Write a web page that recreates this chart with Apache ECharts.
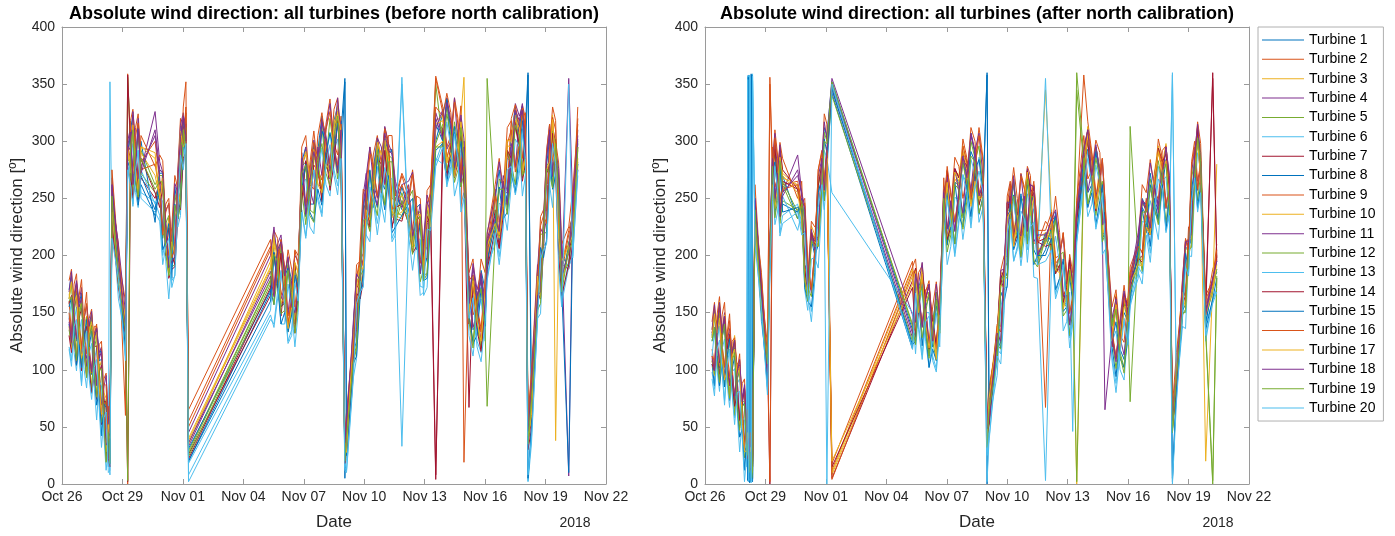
<!DOCTYPE html>
<html><head><meta charset="utf-8">
<script src="https://cdn.jsdelivr.net/npm/echarts@6/dist/echarts.min.js"></script>
<style>html,body{margin:0;padding:0;background:#fff}#c{width:1395px;height:536px}</style>
</head><body><div id="c"></div>
<script>
const tickLabels = ["Oct 26","Oct 29","Nov 01","Nov 04","Nov 07","Nov 10","Nov 13","Nov 16","Nov 19","Nov 22"];
const turbineNames = ["Turbine 1","Turbine 2","Turbine 3","Turbine 4","Turbine 5","Turbine 6","Turbine 7","Turbine 8","Turbine 9","Turbine 10","Turbine 11","Turbine 12","Turbine 13","Turbine 14","Turbine 15","Turbine 16","Turbine 17","Turbine 18","Turbine 19","Turbine 20"];
// time in days since Oct 26 2018 00:00
const tBefore = [0.35,0.6,0.85,1.1,1.35,1.6,1.85,2.08,2.3,2.38,2.48,2.8,3.15,3.26,3.4,3.65,3.92,4.62,4.85,5.15,5.45,5.75,6.02,6.15,6.28,10.35,10.7,11.05,11.4,11.72,11.9,12.3,12.7,13.1,13.5,13.85,14.04,14.12,14.45,14.8,15.1,15.45,15.85,16.2,16.55,16.87,17.2,17.6,17.95,18.3,18.55,18.9,19.3,19.65,19.95,20.2,20.6,21.0,21.1,21.5,21.9,22.3,22.7,23.0,23.13,23.3,23.6,23.9,24.2,24.5,24.8,25.15,25.35,25.6];
const tBeforeMid = [0.47,0.72,0.97,1.22,1.47,1.72,1.96,2.19,3.52,3.78,5.0,5.3,5.6,5.88,10.52,10.87,11.22,11.56,12.1,12.5,12.9,13.3,13.68,14.62,14.95,15.28,15.65,16.02,16.38,17.4,17.78,18.12,19.1,19.48,19.8,20.4,20.8,21.7,22.1,22.5,22.85,23.75,24.05,24.35,24.65];
const tAfter = [0.35,0.6,0.85,1.1,1.35,1.6,1.85,2.08,2.15,2.22,2.29,2.36,2.48,2.8,3.1,3.22,3.35,3.6,3.85,4.6,4.8,5.1,5.45,5.8,6.05,6.3,10.3,10.6,10.95,11.3,11.65,11.85,12.2,12.6,13.0,13.4,13.8,14.0,14.1,14.5,14.85,15.15,15.5,15.85,16.15,16.5,16.9,17.2,17.6,17.95,18.25,18.45,18.8,19.2,19.6,19.85,20.2,20.6,21.0,21.1,21.5,21.9,22.3,22.7,23.05,23.2,23.4,23.7,24.0,24.3,24.6,24.85,25.2,25.4];
const tAfterMid = [0.47,0.72,0.97,1.22,1.47,1.72,1.96,2.12,2.18,2.25,2.32,3.47,3.72,4.95,5.28,5.62,5.92,10.45,10.78,11.12,11.48,12.02,12.4,12.8,13.2,13.6,14.68,15.0,15.32,15.68,16.0,16.32,17.4,17.78,18.1,19.0,19.4,19.72,20.4,20.8,21.7,22.1,22.5,22.88,23.85,24.15,24.45];

const before1 = [170,140,158,122,140,105,112,62,55,28,262,180,142,285,310,275,300,229,275,210,215,240,322,300,20,168,205,160,178,168,282,245,292,280,318,288,5,48,115,195,240,275,265,292,238,260,240,242,188,250,300,325,292,310,270,175,140,170,190,250,242,305,290,312,360,60,185,208,305,280,200,190,248,280];
const before2 = [160,175,142,150,120,138,98,92,48,52,250,210,60,359,290,312,282,300,265,245,205,275,300,330,65,214,195,190,165,200,262,280,275,315,298,322,30,55,130,195,262,280,282,300,248,270,250,245,200,262,357,330,305,320,285,185,155,180,208,258,255,318,300,320,52,95,175,240,295,318,190,222,235,330];
const before3 = [165,160,128,120,135,125,82,60,55,45,232,178,150,295,275,272,295,290,248,210,215,262,292,298,40,190,200,160,150,185,280,265,262,278,315,310,28,25,135,192,240,248,290,288,235,232,258,238,185,222,318,322,288,285,356,150,140,172,210,225,240,302,315,285,45,58,185,225,280,275,198,210,215,278];
const before4 = [145,165,160,125,118,132,115,68,42,50,268,195,130,300,312,280,275,326,282,220,198,272,325,300,33,186,210,185,158,170,290,270,280,305,292,318,35,38,140,180,272,262,275,298,265,245,262,232,215,240,325,305,318,292,300,160,170,150,215,235,270,285,322,298,48,85,162,230,315,285,180,355,245,310];
const before5 = [162,130,150,118,132,100,105,58,50,20,258,182,140,356,300,270,292,262,270,208,210,238,318,298,29,179,200,158,170,162,278,240,288,278,312,282,24,45,108,192,238,272,262,288,232,255,232,238,182,248,350,298,312,280,292,148,162,140,212,222,262,278,312,282,38,80,158,228,278,302,172,212,218,300];
const before6 = [120,142,115,122,98,108,70,62,15,352,218,185,112,280,265,280,255,247,235,215,178,245,280,302,2,144,168,162,135,165,240,250,252,285,275,290,14,12,95,172,225,252,250,270,222,356,220,218,172,228,282,300,278,290,255,150,125,148,180,225,230,282,278,290,3,45,148,208,265,285,162,195,205,282];
const before7 = [158,152,125,115,128,120,80,55,48,38,230,172,130,358,298,292,268,250,265,225,188,232,312,315,26,165,175,178,165,160,250,245,282,298,288,280,20,42,125,168,235,268,280,262,232,230,255,230,182,222,4,312,290,282,270,67,160,145,190,240,255,278,288,305,36,55,178,205,272,298,192,188,210,295];
const before8 = [140,158,150,120,112,125,108,64,35,40,260,200,128,291,305,275,270,240,272,230,192,262,318,302,31,170,202,182,152,165,280,262,268,300,290,308,355,30,132,175,262,255,268,290,255,240,235,235,208,230,315,300,310,288,292,155,162,145,205,230,262,282,312,288,358,78,162,225,302,282,178,208,240,298];
const before9 = [178,150,165,135,145,118,122,78,68,42,275,198,160,0,318,290,305,278,288,228,225,258,330,352,50,205,215,178,188,182,295,262,305,298,328,305,45,62,128,210,255,288,280,305,252,272,258,252,200,265,330,322,325,305,19,182,158,185,218,262,258,320,310,325,60,98,192,232,315,300,210,225,258,315];
const before10 = [138,135,150,138,110,100,102,80,30,22,250,195,125,287,280,275,290,270,250,212,205,258,292,298,35,195,180,162,168,182,255,245,285,300,288,285,23,40,112,170,258,268,262,265,250,252,235,215,202,242,295,300,305,300,270,152,142,162,200,228,245,295,305,288,37,62,175,222,282,38,175,205,240,282];
const before11 = [168,148,135,145,138,112,98,85,60,35,252,210,150,296,292,300,278,305,268,240,205,255,322,315,45,200,195,172,178,195,272,258,295,310,298,300,38,52,122,185,270,265,295,282,250,262,265,228,198,255,310,328,300,298,302,178,150,160,220,252,255,298,318,300,50,90,188,218,310,292,205,7,250,305];
const before12 = [135,150,145,118,108,118,100,60,30,35,240,182,125,284,282,292,272,255,250,228,190,250,295,312,27,178,182,175,150,178,258,260,280,282,292,298,22,28,110,182,242,250,278,280,238,235,250,220,188,228,298,315,292,298,272,162,140,155,355,238,240,280,305,298,37,65,160,218,282,295,188,192,222,292];
const before13 = [145,115,132,100,115,85,90,42,32,8,240,162,128,268,282,255,275,245,252,195,195,225,298,280,18,152,180,140,152,150,262,225,270,262,292,268,15,22,92,172,218,255,245,268,215,33,218,215,165,232,285,280,295,265,278,130,145,125,190,210,242,262,295,270,2,35,145,210,262,282,158,190,200,270];
const before14 = [130,128,145,130,100,95,98,72,22,15,230,175,132,2,272,268,285,255,242,200,200,248,285,290,22,172,172,152,162,175,248,240,275,290,280,278,18,30,102,162,248,258,255,258,242,245,228,208,195,235,8,290,298,292,262,140,135,158,188,222,235,285,298,280,30,48,168,212,278,270,165,192,232,275];
const before15 = [155,135,122,128,120,98,82,70,40,18,242,185,118,278,285,268,262,235,258,212,180,232,302,290,20,160,175,150,148,172,258,238,258,290,292,278,352,25,105,165,245,242,258,270,225,235,245,205,178,232,292,298,285,278,275,148,130,138,195,228,232,272,290,278,5,50,165,198,285,270,172,10,222,280];
const before16 = [150,165,135,145,115,130,90,88,38,48,242,205,138,295,285,305,275,280,255,238,198,268,298,325,55,208,188,188,160,192,262,275,272,310,295,315,32,50,118,198,248,278,272,295,242,262,245,240,192,255,355,325,298,315,278,178,150,175,200,252,245,310,295,312,48,88,170,235,292,310,185,218,232,320];
const before17 = [162,158,132,120,132,125,85,62,52,40,238,180,145,292,278,275,295,285,250,212,212,262,295,300,38,188,198,162,155,185,278,268,262,280,312,308,26,28,132,190,240,250,288,285,235,238,255,235,185,225,315,318,290,288,290,148,142,168,208,228,242,300,312,285,42,60,182,222,282,280,195,208,218,285];
const before18 = [142,160,155,125,112,128,110,65,38,45,262,198,132,296,308,278,272,310,275,222,195,265,320,305,36,182,205,182,155,168,285,265,272,302,295,310,36,35,135,178,265,258,272,292,258,242,258,230,210,238,320,302,315,290,295,158,165,148,212,232,265,282,318,292,46,82,165,228,308,282,182,202,242,302];
const before19 = [160,128,148,115,128,98,100,55,45,18,252,175,135,3,295,265,285,258,265,202,205,232,310,290,24,175,195,152,165,158,272,235,282,272,305,275,20,40,105,185,232,268,258,282,228,248,228,232,178,245,295,295,305,275,285,142,158,135,68,218,258,272,305,275,35,75,152,222,272,298,168,205,212,295];
const before20 = [118,138,110,120,92,102,65,58,10,12,215,180,108,275,262,275,250,238,230,208,172,238,275,298,8,148,162,158,130,160,238,248,248,280,270,285,12,10,90,168,222,248,245,265,218,350,215,212,168,222,278,295,272,285,250,145,120,142,178,220,225,278,272,285,8,40,142,205,260,280,155,350,198,275];

const beforeMid1 = [183,125,167,99,146,89,119,35,323,262,273,193,260,255,215,155,192,145,295,245,322,278,331,125,245,232,303,258,293,215,245,198,338,273,318,135,187,275,253,330,278,169,287,273,268];
const beforeMid2 = [132,184,121,168,98,138,69,97,278,324,222,250,212,320,169,214,147,205,247,309,266,337,288,192,202,295,250,312,250,275,197,257,295,338,270,197,136,229,312,279,332,234,239,330,220];
const beforeMid3 = [176,175,109,105,149,132,55,33,319,260,273,185,206,306,218,158,140,193,288,298,260,270,331,181,196,228,296,306,238,208,238,248,283,273,321,183,125,223,301,328,276,167,280,323,219];
const beforeMid4 = [131,178,172,110,96,137,120,38,268,320,273,188,208,314,171,218,198,148,243,301,320,281,276,183,253,235,251,313,290,215,193,253,338,278,274,193,185,222,256,333,331,175,290,270,268];
const beforeMid5 = [176,112,159,96,148,79,104,27,313,252,270,185,253,256,213,155,195,140,282,237,312,270,326,122,245,230,296,245,285,213,238,185,330,276,318,125,180,267,242,317,268,167,280,260,260];
const beforeMid6 = [108,155,89,134,79,119,42,62,245,292,200,225,182,288,140,187,125,181,217,275,237,308,261,157,172,270,228,288,215,245,173,228,260,308,245,165,115,199,285,255,311,199,212,305,195];
const beforeMid7 = [165,165,99,94,139,121,52,20,313,249,260,180,190,301,202,147,135,193,283,285,247,268,318,175,185,222,285,300,227,208,235,235,272,268,313,178,122,207,290,318,271,162,277,313,203];
const beforeMid8 = [120,169,164,98,96,136,109,29,265,312,272,190,199,305,157,210,189,145,234,297,309,267,275,180,239,227,242,302,292,212,184,239,337,275,260,179,182,214,247,325,330,172,279,264,270];
const beforeMid9 = [188,129,179,114,153,89,125,48,328,267,283,200,270,265,222,165,205,155,305,258,325,280,338,140,258,240,305,262,305,222,250,208,342,283,331,148,197,285,260,332,285,177,292,283,281];
const beforeMid10 = [118,118,162,147,84,77,108,75,261,252,268,233,201,246,211,203,133,141,280,293,252,268,326,176,191,223,291,301,233,203,236,238,281,268,316,178,120,215,296,323,274,162,275,318,211];
const beforeMid11 = [186,127,114,156,151,86,70,95,326,267,220,245,263,266,225,162,150,200,295,245,270,333,338,135,197,295,303,263,240,273,245,197,293,338,323,137,184,282,255,277,333,224,232,275,276];
const beforeMid12 = [123,169,103,146,83,129,54,74,255,304,215,235,192,300,157,207,134,187,227,287,257,320,267,177,187,274,235,300,235,257,177,240,274,317,260,180,119,217,292,262,323,219,221,309,210];
const beforeMid13 = [160,99,144,84,123,56,86,12,298,242,247,162,235,235,197,140,175,120,267,219,294,252,302,110,227,212,278,229,267,187,214,172,317,252,292,112,162,246,222,302,252,149,262,242,245];
const beforeMid14 = [115,104,154,138,80,74,104,72,250,249,260,224,192,240,202,202,135,132,282,279,249,257,318,167,177,225,288,292,224,202,232,229,267,268,305,177,116,206,292,312,265,162,272,307,200];
const beforeMid15 = [163,104,102,144,134,69,42,67,308,244,205,228,245,246,203,140,133,183,280,230,244,307,316,112,183,275,286,240,220,250,228,180,265,313,300,123,172,260,238,255,318,207,214,258,258];
const beforeMid16 = [124,173,118,158,97,140,60,86,272,316,218,246,206,306,166,214,141,204,244,299,258,326,279,181,191,289,252,311,241,271,194,246,286,334,266,183,133,218,298,273,329,226,228,321,222];
const beforeMid17 = [177,165,110,95,142,133,61,28,314,253,263,183,201,309,214,159,136,194,291,291,255,274,324,173,188,231,299,301,239,208,236,246,281,269,317,178,125,218,301,318,271,163,275,319,214];
const beforeMid18 = [124,176,163,103,98,136,116,34,262,311,272,189,199,304,164,212,199,150,236,291,316,274,272,184,244,237,244,307,289,217,184,247,334,277,264,189,178,221,244,327,327,168,286,269,267];
const beforeMid19 = [164,108,158,93,138,76,101,19,310,251,264,182,244,244,201,149,187,132,279,229,298,261,322,119,231,221,292,244,282,201,234,184,324,264,312,119,171,258,236,314,270,158,276,259,254];
const beforeMid20 = [103,144,86,134,74,109,32,63,243,292,192,215,183,288,137,185,123,176,215,275,234,297,253,158,173,260,218,277,212,245,165,223,263,306,238,163,107,192,275,253,306,197,210,298,188];

const after1 = [130,118,135,102,115,78,75,30,358,3,357,2,250,158,112,205,285,255,270,232,250,168,212,262,305,352,135,172,142,142,138,255,228,262,258,288,258,0,70,112,188,240,238,232,258,198,220,212,208,158,172,225,292,262,275,222,142,118,152,175,198,242,248,278,250,45,102,152,212,272,290,138,180,185];
const after2 = [118,148,122,132,102,105,68,58,35,28,25,22,240,185,105,356,275,288,262,265,245,195,205,292,295,12,190,165,170,135,165,245,255,255,285,280,285,48,65,140,180,265,232,260,250,225,67,240,200,185,165,245,358,290,265,250,135,145,145,190,210,250,260,285,262,62,95,180,205,300,280,165,178,210];
const after3 = [135,140,115,105,118,100,58,35,42,35,28,20,232,160,118,215,268,262,272,260,238,172,218,285,288,8,182,158,150,148,162,238,232,270,280,272,262,42,80,135,178,242,240,255,240,210,345,235,190,168,178,240,278,272,280,235,128,125,160,185,200,232,272,280,255,60,105,175,210,278,272,20,175,200];
const after4 = [112,138,135,105,98,100,75,38,30,26,22,18,250,172,98,210,290,275,255,288,255,170,205,285,292,345,128,170,162,128,145,258,245,258,270,290,262,45,58,135,190,245,225,255,262,202,212,230,212,162,160,238,295,268,275,65,130,140,152,170,215,245,260,270,268,50,88,172,215,285,278,150,178,195];
const after5 = [128,112,130,98,110,72,72,28,25,22,18,15,245,155,110,198,282,252,265,238,248,165,210,258,300,348,140,168,140,138,135,252,222,262,252,285,255,38,68,110,185,238,235,228,255,195,218,208,205,155,168,360,288,260,272,220,140,115,150,313,195,240,245,275,245,48,98,150,208,268,285,135,3,182];
const after6 = [98,125,100,112,80,88,45,35,5,356,2,359,215,162,82,190,252,262,235,245,222,175,180,268,272,350,120,140,150,112,142,222,235,232,262,262,262,2,40,118,158,238,208,238,228,198,355,210,180,160,142,215,265,268,242,225,112,122,125,160,190,225,238,262,238,360,75,155,185,275,258,140,160,172];
const after7 = [132,138,112,102,115,98,55,30,40,32,26,20,230,158,112,0,265,262,275,258,235,168,215,282,285,5,178,155,145,145,160,232,228,268,282,268,258,40,78,132,170,238,238,252,238,212,215,232,188,172,172,235,275,282,275,230,122,118,155,178,198,230,270,275,252,55,100,170,205,275,270,150,360,198];
const after8 = [105,130,128,100,92,92,68,30,352,8,354,4,240,170,92,205,282,268,245,238,250,168,200,278,282,342,118,162,155,120,138,248,240,250,262,282,252,358,52,128,182,240,218,248,255,192,205,225,202,155,152,228,285,260,265,218,120,132,142,165,208,235,250,260,262,5,82,165,208,278,268,142,172,188];
const after9 = [142,125,148,115,125,92,88,45,38,32,30,25,262,170,122,2,295,268,285,250,265,180,225,275,315,18,195,185,155,155,148,268,240,278,268,300,270,55,85,125,200,250,250,242,270,210,230,222,220,170,185,248,305,275,290,235,155,130,165,185,210,255,258,292,262,68,115,165,225,285,298,152,188,198];
const after10 = [108,115,132,120,92,80,72,50,32,28,22,18,245,175,95,212,262,255,268,262,232,170,215,282,280,10,188,152,158,140,155,232,228,262,278,270,255,35,55,125,185,255,222,235,255,215,220,215,190,175,168,225,275,265,268,245,125,120,148,180,200,225,265,280,250,48,85,165,215,278,265,155,172,280];
const after11 = [135,125,118,125,115,90,68,52,38,30,24,20,250,168,105,205,282,272,255,270,255,185,205,285,302,355,148,175,155,135,160,255,240,255,280,292,268,50,72,128,188,262,232,242,260,218,218,228,202,175,175,240,290,275,265,240,145,128,148,180,220,238,262,278,265,58,100,168,208,295,282,152,180,195];
const after12 = [108,132,125,108,95,92,65,32,28,25,20,15,242,165,95,198,278,270,248,240,248,172,198,275,288,340,125,165,150,125,142,245,238,252,262,282,258,35,58,122,180,242,222,245,252,198,212,222,200,160,158,345,280,268,258,225,128,130,140,72,208,235,255,262,258,48,88,162,205,282,272,148,168,188];
const after13 = [112,100,118,88,98,62,58,15,2,358,6,353,228,142,98,185,268,238,252,222,238,152,198,245,285,255,150,155,125,128,120,238,208,248,240,272,242,25,55,95,172,222,222,215,242,180,3,195,192,142,46,212,270,245,262,205,125,100,140,158,180,228,232,265,230,358,80,138,200,255,278,125,162,170];
const after14 = [105,112,130,118,90,78,70,48,30,25,20,15,238,172,95,208,265,258,265,258,238,168,210,280,282,15,172,152,162,142,152,235,225,268,278,272,260,42,52,128,188,252,218,230,258,212,208,210,192,172,162,232,272,260,272,238,120,118,152,172,198,225,262,282,255,52,82,168,212,275,268,158,355,195];
const after15 = [125,112,105,112,100,70,48,40,356,1,359,5,238,150,85,192,272,255,238,242,240,160,185,268,290,346,122,158,135,118,142,240,222,235,262,275,255,360,60,112,160,248,215,225,248,200,200,215,180,152,158,220,278,255,248,225,125,110,128,162,205,220,240,262,252,2,85,145,188,278,262,135,162,180];
const after16 = [112,142,118,128,98,100,62,55,40,35,30,24,235,182,102,350,272,285,258,262,242,192,202,290,292,4,185,162,168,132,162,242,252,250,282,278,282,45,62,138,178,262,228,258,248,222,222,238,198,182,162,242,290,288,262,248,132,142,142,182,208,248,258,282,260,60,92,178,202,295,278,162,175,205];
const after17 = [128,132,110,100,112,95,52,28,35,28,22,16,228,152,110,210,262,260,270,255,232,165,212,278,285,20,175,150,140,142,158,230,225,265,275,265,252,38,75,130,172,238,235,250,235,205,210,230,185,165,170,0,272,278,270,228,125,118,155,175,192,225,268,272,248,52,98,168,200,270,268,148,170,192];
const after18 = [110,135,132,102,95,98,72,36,30,26,22,16,248,172,98,210,285,272,252,275,252,172,205,285,290,350,132,168,162,125,148,255,248,255,268,292,262,48,55,132,192,245,222,252,262,200,215,232,210,165,158,238,292,270,270,232,128,140,148,175,212,242,262,268,270,55,92,175,212,288,278,148,180,195];
const after19 = [125,108,128,95,108,70,68,25,22,20,16,12,240,152,105,195,278,248,262,232,245,160,208,255,298,352,138,165,135,135,132,250,218,258,248,282,250,32,65,108,182,235,232,225,252,190,215,205,202,152,165,2,285,258,268,218,138,112,148,168,192,238,242,272,242,45,95,148,205,265,282,132,0,180];
const after20 = [92,118,98,105,78,80,40,28,6,352,1,357,210,155,78,185,248,258,228,238,218,165,178,262,0,350,118,135,142,108,135,218,228,228,255,258,255,28,38,112,152,232,205,232,225,192,195,205,175,155,140,212,262,262,240,215,108,115,122,155,185,218,235,258,235,0,72,148,182,268,255,130,158,168];

const afterMid1 = [152,102,145,77,119,56,84,352,2,356,4,245,292,185,218,215,312,129,182,112,162,212,274,235,307,250,178,182,262,206,274,205,238,157,194,255,295,217,155,109,250,272,240,292,157,214,310];
const afterMid2 = [104,164,102,149,74,108,37,44,31,26,23,310,250,250,170,275,267,197,139,174,120,275,229,302,254,312,138,252,222,272,224,262,198,220,149,317,255,285,110,174,202,229,302,244,214,282,265];
const afterMid3 = [153,160,95,91,130,107,28,50,30,22,35,251,296,191,226,215,266,188,193,123,118,268,275,296,253,250,186,246,221,210,275,261,191,158,195,313,248,225,166,165,196,228,296,298,163,220,311];
const afterMid4 = [100,155,150,88,69,104,85,25,40,15,28,248,237,243,218,210,260,188,138,175,168,215,222,291,305,253,123,240,270,209,222,260,235,157,142,310,295,222,111,167,248,219,243,295,210,220,313];
const afterMid5 = [148,92,140,77,124,49,72,40,12,30,8,240,285,178,218,210,308,133,183,115,168,210,264,233,300,245,176,182,265,207,270,195,233,158,190,245,295,215,158,102,246,267,232,282,150,215,306];
const afterMid6 = [83,138,73,118,58,92,13,350,358,3,355,278,220,221,151,253,240,168,113,150,101,254,202,271,228,286,114,220,195,250,205,241,166,193,128,291,223,258,88,145,184,202,278,223,196,250,241];
const afterMid7 = [148,156,91,86,126,102,31,22,45,18,30,244,296,186,219,216,256,189,183,118,119,274,276,289,246,254,179,246,216,210,270,261,186,164,198,306,243,226,164,166,199,218,291,294,164,221,314];
const afterMid8 = [86,143,139,73,66,100,71,6,350,2,358,236,231,232,214,209,248,176,121,164,156,209,210,284,291,236,119,234,253,198,210,246,234,151,130,293,291,216,94,150,242,208,231,284,206,214,299];
const afterMid9 = [159,108,159,94,128,58,92,55,28,42,18,260,299,192,230,224,324,141,191,124,177,224,286,250,312,254,187,199,277,216,278,211,252,166,201,267,301,229,170,124,262,284,249,296,166,224,317];
const afterMid10 = [95,103,148,133,65,52,81,40,20,35,10,293,238,183,221,263,261,128,186,168,111,216,267,291,245,248,181,241,216,205,270,256,186,153,193,303,246,220,161,160,191,220,291,293,161,215,306];
const afterMid11 = [157,106,94,136,126,55,37,62,25,40,15,307,297,192,167,269,317,142,194,121,122,269,276,237,257,307,187,194,216,271,276,212,187,217,196,256,252,284,162,113,249,281,244,241,214,271,257];
const afterMid12 = [96,150,85,128,60,100,23,20,38,12,28,288,228,231,164,261,248,178,128,168,108,258,210,281,246,296,118,238,208,252,210,251,184,203,130,301,235,265,101,158,186,218,283,228,206,268,248];
const afterMid13 = [134,81,127,67,101,28,56,357,4,355,3,227,272,170,197,189,292,114,169,102,150,192,251,214,284,229,154,172,249,191,254,181,217,134,168,234,279,201,134,91,230,248,214,269,136,199,290];
const afterMid14 = [99,96,147,131,68,56,84,35,42,12,25,297,234,187,220,261,259,129,184,174,120,214,276,284,249,244,180,239,209,214,274,254,184,159,196,301,239,227,157,166,194,218,294,289,159,222,310];
const afterMid15 = [137,86,85,127,112,41,12,3,357,1,354,282,282,172,155,255,302,125,175,102,108,255,264,225,234,284,168,174,205,254,262,192,170,197,182,242,227,262,142,102,240,262,230,222,202,257,242];
const afterMid16 = [100,157,103,143,77,114,32,65,30,45,18,303,248,246,170,275,265,187,140,178,118,278,230,296,250,305,133,245,215,270,230,265,193,220,150,310,250,285,110,164,203,222,292,242,215,278,258];
const afterMid17 = [149,145,91,76,118,103,29,45,20,32,10,241,286,179,211,208,256,186,184,119,109,264,273,284,243,249,174,233,208,208,273,251,187,153,188,306,241,216,157,155,191,218,291,283,153,211,301];
const afterMid18 = [99,159,147,87,77,109,87,22,40,14,30,250,237,240,223,217,257,184,137,175,175,223,221,287,307,252,125,247,267,217,221,260,240,165,139,310,297,227,107,169,247,224,237,295,212,219,315];
const afterMid19 = [137,89,140,75,115,47,70,35,10,28,5,233,283,178,213,208,300,122,172,110,161,203,262,223,287,237,173,180,252,199,267,195,231,147,187,245,285,212,153,97,238,259,227,280,153,207,303];
const afterMid20 = [77,126,69,117,52,81,2,354,3,356,2,278,217,220,142,242,240,167,109,147,98,248,199,270,224,274,105,220,195,239,194,229,162,192,119,285,225,255,80,142,175,194,267,220,190,247,238];

const beforeAll = [before1,before2,before3,before4,before5,before6,before7,before8,before9,before10,before11,before12,before13,before14,before15,before16,before17,before18,before19,before20];
const beforeMidAll = [beforeMid1,beforeMid2,beforeMid3,beforeMid4,beforeMid5,beforeMid6,beforeMid7,beforeMid8,beforeMid9,beforeMid10,beforeMid11,beforeMid12,beforeMid13,beforeMid14,beforeMid15,beforeMid16,beforeMid17,beforeMid18,beforeMid19,beforeMid20];
const afterAll = [after1,after2,after3,after4,after5,after6,after7,after8,after9,after10,after11,after12,after13,after14,after15,after16,after17,after18,after19,after20];
const afterMidAll = [afterMid1,afterMid2,afterMid3,afterMid4,afterMid5,afterMid6,afterMid7,afterMid8,afterMid9,afterMid10,afterMid11,afterMid12,afterMid13,afterMid14,afterMid15,afterMid16,afterMid17,afterMid18,afterMid19,afterMid20];
function check(all, t, name){ all.forEach((a,i)=>{ if(a.length!==t.length) throw new Error(name+(i+1)+' length '+a.length+' vs '+t.length); }); }
check(beforeAll,tBefore,'before'); check(beforeMidAll,tBeforeMid,'beforeMid');
check(afterAll,tAfter,'after'); check(afterMidAll,tAfterMid,'afterMid');

// merge the main samples and the intermediate samples of one turbine into one time-ordered table
function mergeSamples(t, v, tm, vm){
  const pts = t.map((x,i)=>[x, v[i]]).concat(tm.map((x,i)=>[x, vm[i]]));
  pts.sort((a,b)=>a[0]-b[0]);
  return pts;
}

const palette = ['#0072BD','#D95319','#EDB120','#7E2F8E','#77AC30','#4DBEEE','#A2142F'];
const FONT = '"Liberation Sans", Arial, Helvetica, sans-serif';
const AX = '#9a9a9a', TXT = '#262626';

const chart = echarts.init(document.getElementById('c'), null, {renderer:'canvas'});
const grids = [{left:62, top:27, width:544, height:458}, {left:705, top:27, width:544, height:458}];

const xAxes = [], yAxes = [];
grids.forEach((g,i)=>{
  xAxes.push({type:'value', gridIndex:i, min:0, max:27, interval:3, position:'bottom',
    axisLine:{show:true, onZero:false, lineStyle:{color:AX, width:1}},
    axisTick:{show:true, inside:true, length:5, lineStyle:{color:AX}},
    axisLabel:{formatter:v=>tickLabels[Math.round(v/3)], color:TXT, fontSize:14, fontFamily:FONT, margin:6},
    splitLine:{show:false},
    name:'Date', nameLocation:'middle', nameGap:30, nameTextStyle:{fontSize:17, color:TXT, fontFamily:FONT}});
  xAxes.push({type:'value', gridIndex:i, min:0, max:27, interval:3, position:'top',
    axisLine:{show:true, onZero:false, lineStyle:{color:AX, width:1}},
    axisTick:{show:true, inside:true, length:5, lineStyle:{color:AX}},
    axisLabel:{show:false}, splitLine:{show:false}});
  yAxes.push({type:'value', gridIndex:i, min:0, max:400, interval:50, position:'left',
    axisLine:{show:true, onZero:false, lineStyle:{color:AX, width:1}},
    axisTick:{show:true, inside:true, length:5, lineStyle:{color:AX}},
    axisLabel:{color:TXT, fontSize:14, fontFamily:FONT, margin:7},
    splitLine:{show:false},
    name:'Absolute wind direction [º]', nameLocation:'middle', nameGap:36, nameRotate:90,
    nameTextStyle:{fontSize:17, color:TXT, fontFamily:FONT}});
  yAxes.push({type:'value', gridIndex:i, min:0, max:400, interval:50, position:'right',
    axisLine:{show:true, onZero:false, lineStyle:{color:AX, width:1}},
    axisTick:{show:true, inside:true, length:5, lineStyle:{color:AX}},
    axisLabel:{show:false}, splitLine:{show:false}});
});

const series = [];
[[beforeAll,beforeMidAll,tBefore,tBeforeMid,0],[afterAll,afterMidAll,tAfter,tAfterMid,1]].forEach(([all,mid,t,tm,gi])=>{
  all.forEach((vals,k)=>{
    series.push({type:'line', name:turbineNames[k], xAxisIndex:gi*2, yAxisIndex:gi*2,
      data:mergeSamples(t, vals, tm, mid[k]), symbol:'none', showSymbol:false, silent:true,
      lineStyle:{width:1, color:palette[k%7]}, itemStyle:{color:palette[k%7]}, animation:false, clip:true});
  });
});

chart.setOption({
  animation:false,
  backgroundColor:'#fff',
  textStyle:{fontFamily:FONT},
  grid: grids.map(g=>Object.assign({show:false, containLabel:false}, g)),
  xAxis:xAxes, yAxis:yAxes, series,
  legend:{data:turbineNames, orient:'vertical', left:1258, top:27, itemWidth:42, itemHeight:14, itemGap:5.37,
    icon:'path://M0,0 L42,0 L42,1 L0,1 Z', backgroundColor:'#fff', borderColor:'#b0b0b0', borderWidth:1, padding:[6,8,6,4],
    textStyle:{fontSize:14, color:'#000', fontFamily:FONT}, selectedMode:false},
  graphic:[
    {type:'text', x:334, y:14, style:{text:'Absolute wind direction: all turbines (before north calibration)', font:'bold 18px '+FONT, fill:'#000', textAlign:'center', textVerticalAlign:'middle'}},
    {type:'text', x:977, y:14, style:{text:'Absolute wind direction: all turbines (after north calibration)', font:'bold 18px '+FONT, fill:'#000', textAlign:'center', textVerticalAlign:'middle'}},
    {type:'text', x:575, y:523, style:{text:'2018', font:'14px '+FONT, fill:TXT, textAlign:'center', textVerticalAlign:'middle'}},
    {type:'text', x:1218, y:523, style:{text:'2018', font:'14px '+FONT, fill:TXT, textAlign:'center', textVerticalAlign:'middle'}}
  ]
});
</script></body></html>
